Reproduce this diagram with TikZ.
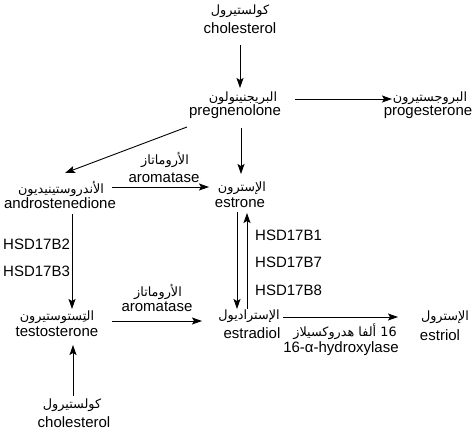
\documentclass[tikz,border=0pt]{standalone}
\usepackage{fontspec}
\setmainfont{Liberation Sans}
\newfontfamily\arabicfont[Script=Arabic]{DejaVu Sans}
\TeXXeTstate=1
\usetikzlibrary{arrows.meta,calc}
\newcommand\artxt[1]{{\arabicfont\fontsize{12.8}{14}\selectfont\beginR #1\endR}}
\begin{document}
\begin{tikzpicture}[x=1pt,y=-1pt,
  en/.style={anchor=base,inner sep=0pt,font=\fontsize{15}{16}\selectfont},
  ar/.style={anchor=base,inner sep=0pt},
  lab/.style={anchor=base west,inner sep=0pt,font=\fontsize{15}{16}\selectfont},
  arr/.style={-{Stealth[length=10pt,width=7pt,inset=2pt]},line width=0.9pt}]
\fill[white] (0,0) rectangle (472,434);
\useasboundingbox (0,0) rectangle (472,434);
% compounds
\node[ar] (cholA) at (240,14) {\artxt{كولستيرول}};
\node[en] (cholE) at (240,33) {cholesterol};
\node[ar] (pregA) at (243,101) {\artxt{البريجنينولون}};
\node[en] (pregE) at (235,115) {pregnenolone};
\node[ar] (progA) at (430,101) {\artxt{البروجستيرون}};
\node[en] (progE) at (428,115) {progesterone};
\node[ar] (andA) at (61,193) {\artxt{الأندروستينيديون}};
\node[en] (andE) at (60,208) {androstenedione};
\node[ar] (estA) at (242,191) {\artxt{الإسترون}};
\node[en] (estE) at (240,207) {estrone};
\node[ar] (testA) at (57,320) {\artxt{التِستوستيرون}};
\node[en] (testE) at (57,336) {testosterone};
\node[ar] (esdA) at (249,319) {\artxt{الإستراديول}};
\node[en] (esdE) at (252,338) {estradiol};
\node[ar] (etrA) at (445,320) {\artxt{الإسترول}};
\node[en] (etrE) at (440,340) {estriol};
\node[ar] (chbA) at (72,408) {\artxt{كولستيرول}};
\node[en] (chbE) at (74,427) {cholesterol};
% enzymes
\node[ar] (aro1A) at (165,164) {\artxt{الأروماتاز}};
\node[en] (aro1E) at (164,182) {aromatase};
\node[ar] (aro2A) at (158,296) {\artxt{الأروماتاز}};
\node[en] (aro2E) at (157,311) {aromatase};
\node[ar] (hydA) at (345,336) {\artxt{\beginL 16\endL{} ألفا هدروكسيلاز}};
\node[en] (hydE) at (341,352) {16-α-hydroxylase};
\node[lab] (hsdB) at (3,249) {HSD17B2};
\node[lab] (hsdC) at (3,276) {HSD17B3};
\node[lab] (hsdA) at (255,240) {HSD17B1};
\node[lab] (hsdG) at (255,267) {HSD17B7};
\node[lab] (hsdH) at (255,295) {HSD17B8};
% connectors
\draw[arr] ($(cholE.base)+(0,12)$) -- ($(cholE.base |- pregA.base)+(0,-13)$);
\draw[arr] ($(pregA.base)+(52,-2)$) -- ($(progA.base)+(-38,-2)$);
\draw[arr] ($(pregE.base)+(6,13)$) -- ($(estA.base)+(-1,-17)$);
\draw[arr] ($(pregE.base)+(-48,12)$) -- ($(andA.base)+(4,-20)$);
\draw[arr] ($(andA.base)+(51,-6)$) -- ($(estA.base)+(-33,-4)$);
\draw[arr] ($(andE.base)+(12,6)$) -- ($(testA.base)+(15,-11)$);
\draw[arr] ($(testA.base)+(55,1)$) -- ($(esdA.base)+(-47,2)$);
\draw[arr] ($(estE.base)+(-3,5)$) -- ($(esdA.base)+(-12,-10)$);
\draw[arr] ($(esdA.base)+(-2,-10)$) -- ($(estE.base)+(7,6)$);
\draw[arr] ($(esdA.base)+(34,-2)$) -- ($(etrA.base)+(-47,-3)$);
\draw[arr] ($(chbA.base)+(1,-12)$) -- ($(testE.base)+(16,9)$);
\end{tikzpicture}
\end{document}
